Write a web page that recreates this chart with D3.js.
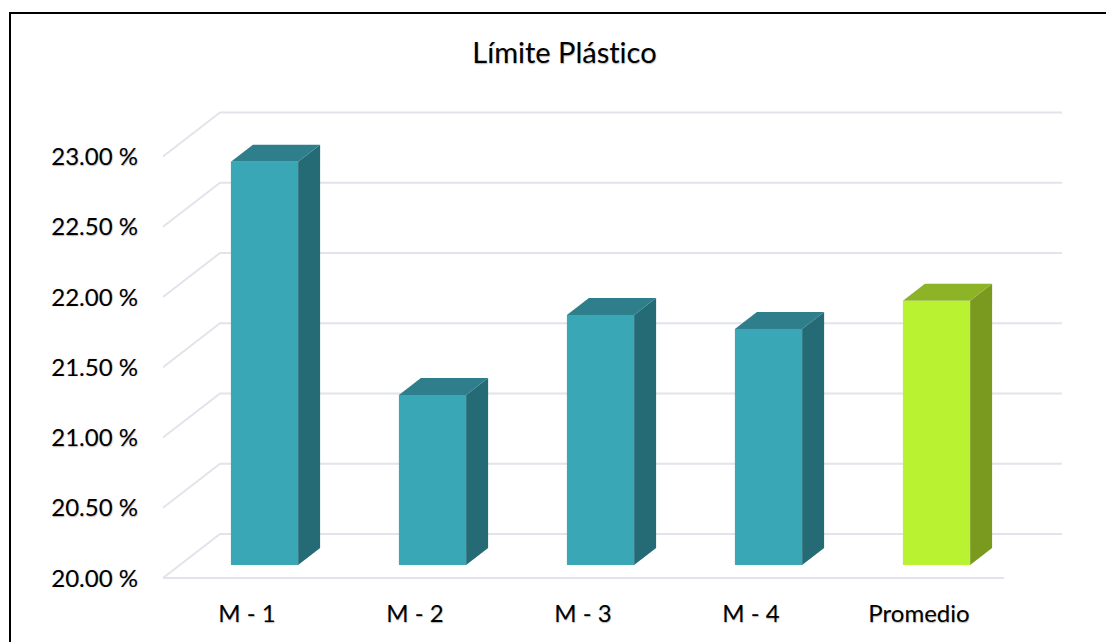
<!DOCTYPE html>
<html><head><meta charset="utf-8">
<script src="https://cdn.jsdelivr.net/npm/d3@7"></script>
<style>
html,body{margin:0;padding:0;background:#fff;overflow:hidden}
text{font-family:Lato,"Open Sans",sans-serif;fill:#000;font-variant-ligatures:none;text-shadow:0.5px 0.5px 1.2px rgba(0,0,0,.3)}
</style></head><body><div id="chart"></div>
<script>
const categories = ["M - 1","M - 2","M - 3","M - 4","Promedio"];
const values = [22.87,21.21,21.78,21.68,21.88];
const yTicks = [20,20.5,21,21.5,22,22.5,23];
const title = "Límite Plástico";
const faceColors = ["#3aa7b7","#3aa7b7","#3aa7b7","#3aa7b7","#b9f231"];
const topColors = ["#2e7f8b","#2e7f8b","#2e7f8b","#2e7f8b","#8db426"];
const sideColors = ["#256b75","#256b75","#256b75","#256b75","#7a9a1f"];

const W=1106,H=642;
const svg=d3.select("#chart").append("svg").attr("width",W).attr("height",H).style("display","block");
svg.append("path").attr("d",`M10,642V13H1106`).attr("fill","none").attr("stroke","#000").attr("stroke-width",2);

const floorFront=578, depthFullX=57, depthFullY=44;
const y=d3.scaleLinear().domain([20,23]).range([floorFront,156.5]);
const x=d3.scaleBand().domain(categories).range([180.5,1020.5]).paddingInner(0.6).paddingOuter(0.3);
const gridC="#e2e4ec";
const g=svg.append("g");
yTicks.forEach(t=>{
  const yy=y(t);
  g.append("path").attr("d",`M163,${yy}L${163+depthFullX},${yy-depthFullY}H1062`)
    .attr("fill","none").attr("stroke",gridC).attr("stroke-width",2);
});
g.append("path").attr("d",`M163,${floorFront}H1004`).attr("fill","none").attr("stroke",gridC).attr("stroke-width",2);

const barDy=13, dx=22, dy=17;
const barY=v=>y(v)-barDy;
const bw=x.bandwidth();
const bars=svg.selectAll("g.bar").data(categories).join("g").attr("class","bar");
bars.append("path").attr("fill",(d,i)=>sideColors[i]).attr("d",(d,i)=>{
  const r=x(d)+bw,t=barY(values[i]),b=barY(20);
  return `M${r},${t}l${dx},${-dy}V${b-dy}L${r},${b}Z`;});
bars.append("path").attr("fill",(d,i)=>topColors[i]).attr("d",(d,i)=>{
  const l=x(d),t=barY(values[i]);
  return `M${l},${t}l${dx},${-dy}h${bw}l${-dx},${dy}Z`;});
bars.append("rect").attr("fill",(d,i)=>faceColors[i])
  .attr("x",d=>x(d)).attr("width",bw)
  .attr("y",(d,i)=>barY(values[i])).attr("height",(d,i)=>barY(20)-barY(values[i]));

svg.selectAll("text.yl").data(yTicks).join("text").attr("class","yl")
  .attr("x",138).attr("y",d=>y(d)+8.5).attr("text-anchor","end").attr("font-size",24)
  .text(d=>d.toFixed(2)+" %");
svg.selectAll("text.xl").data(categories).join("text").attr("class","xl")
  .attr("x",d=>x(d)+bw/2-17.5).attr("y",622).attr("text-anchor","middle").attr("font-size",24).text(d=>d);
svg.append("text").attr("x",564.5).attr("y",63).attr("text-anchor","middle").attr("font-size",29).text(title);
</script></body></html>
